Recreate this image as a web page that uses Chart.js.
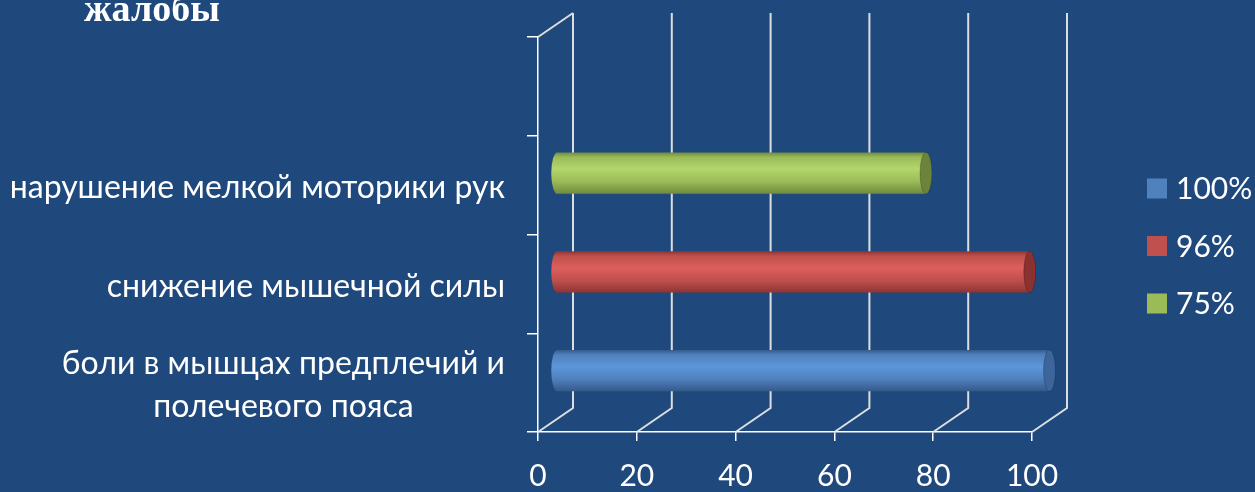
<!DOCTYPE html>
<html>
<head>
<meta charset="utf-8">
<script src="https://cdn.jsdelivr.net/npm/chart.js@4.4.1/dist/chart.umd.min.js"></script>
<style>
  html, body { margin: 0; padding: 0; background: #1F497D; }
  #wrap { width: 1255px; height: 492px; }
</style>
</head>
<body>
<div id="wrap"><canvas id="chart" width="1255" height="492"></canvas></div>
<script>
// data
const categories = ['', 'нарушение мелкой моторики рук', 'снижение мышечной силы', ['боли в мышцах предплечий и', 'полечевого пояса']];
const seriesNames = ['100%', '96%', '75%'];
const series100 = [null, null, null, 100];
const series96 = [null, null, 96, null];
const series75 = [null, 75, null, null];
const xTicks = [0, 20, 40, 60, 80, 100];
const chartTitle = 'жалобы';

// colours per series
const palette = [
  { base: '#4F81BD', edge: '#35598A', light: '#5C96DB', cap: '#3D659C' },
  { base: '#C0504D', edge: '#8E3432', light: '#DC5F5C', cap: '#8A3230' },
  { base: '#9BBB59', edge: '#6F8A3C', light: '#B3D66C', cap: '#6C833B' }
];

const FONT = 'Lato, "Open Sans", "Noto Sans", sans-serif';
const DX = 35, DY = -24;   // 3d depth of the walls

function cylFill(ctx, i) {
  const chart = ctx.chart;
  const y = chart.scales.y;
  if (!chart.chartArea || !y) return palette[i].base;
  const yc = y.getPixelForValue(ctx.dataIndex);
  const half = (y.getPixelForValue(1) - y.getPixelForValue(0)) * 0.42 / 2;
  const g = chart.ctx.createLinearGradient(0, yc - half, 0, yc + half);
  const p = palette[i];
  g.addColorStop(0, p.edge);
  g.addColorStop(0.12, p.base);
  g.addColorStop(0.4, p.light);
  g.addColorStop(0.7, p.base);
  g.addColorStop(1, p.edge);
  return g;
}

const wallsAndCylinders = {
  id: 'wallsAndCylinders',
  beforeDatasetsDraw(chart) {
    const { ctx, chartArea: a, scales: { x } } = chart;
    ctx.save();
    ctx.strokeStyle = 'rgba(230,230,230,0.95)';
    ctx.lineWidth = 2;
    ctx.beginPath();
    xTicks.forEach(v => {
      const px = x.getPixelForValue(v);
      ctx.moveTo(px, a.bottom);
      ctx.lineTo(px + DX, a.bottom + DY);
      ctx.lineTo(px + DX, a.top + DY);
    });
    ctx.moveTo(a.left, a.top);
    ctx.lineTo(a.left + DX, a.top + DY);
    ctx.stroke();
    ctx.restore();
    // bars sit half way into the depth
    ctx.save();
    ctx.translate(DX / 2, DY / 2);
  },
  afterDatasetsDraw(chart) {
    const ctx = chart.ctx;
    chart.data.datasets.forEach((ds, i) => {
      const meta = chart.getDatasetMeta(i);
      meta.data.forEach((el, j) => {
        if (ds.data[j] == null) return;
        const { x, y, base, height } = el.getProps(['x', 'y', 'base', 'height'], true);
        const rx = 6, ry = height / 2;
        ctx.fillStyle = el.options.backgroundColor;
        ctx.beginPath();
        ctx.ellipse(base + 1, y, rx, ry, 0, Math.PI / 2, Math.PI * 3 / 2);
        ctx.fill();
        ctx.fillStyle = palette[i].cap;
        ctx.beginPath();
        ctx.ellipse(x, y, rx, ry, 0, 0, Math.PI * 2);
        ctx.fill();
        ctx.strokeStyle = 'rgba(0,0,0,0.2)';
        ctx.lineWidth = 1;
        ctx.stroke();
      });
    });
    ctx.restore();
  },
  afterDraw(chart) {
    const { ctx, scales: { y }, chartArea: a } = chart;
    ctx.save();
    ctx.fillStyle = '#fff';
    // category labels, lines centred on each other, block right aligned
    ctx.font = '32px ' + FONT;
    ctx.textBaseline = 'middle';
    ctx.textAlign = 'center';
    const right = a.left - 33;
    categories.forEach((lab, i) => {
      const lines = Array.isArray(lab) ? lab : [lab];
      if (!lines[0]) return;
      const w = Math.max(...lines.map(l => ctx.measureText(l).width));
      const cx = right - w / 2;
      const lh = 43;
      const yc = y.getPixelForValue(i) + 3;
      lines.forEach((l, k) => ctx.fillText(l, cx, yc + (k - (lines.length - 1) / 2) * lh));
    });
    // legend
    ctx.textAlign = 'left';
    ctx.font = '30px ' + FONT;
    const mid = chart.height / 2;
    seriesNames.forEach((n, i) => {
      const cy = mid + (i - 1) * 57.5;
      ctx.fillStyle = palette[i].base;
      ctx.fillRect(1147, cy - 10, 20, 20);
      ctx.fillStyle = '#fff';
      ctx.fillText(n, 1176, cy + 1);
    });
    // title
    ctx.font = 'bold 38px "Liberation Serif", "DejaVu Serif", serif';
    ctx.textBaseline = 'alphabetic';
    ctx.fillText(chartTitle, 84, 21);
    ctx.restore();
  }
};

new Chart(document.getElementById('chart'), {
  type: 'bar',
  data: {
    labels: categories,
    datasets: [series100, series96, series75].map((d, i) => ({
      label: seriesNames[i],
      data: d,
      grouped: false,
      categoryPercentage: 1,
      barPercentage: 0.42,
      borderWidth: 0,
      clip: false,
      backgroundColor: ctx => cylFill(ctx, i)
    }))
  },
  options: {
    indexAxis: 'y',
    responsive: false,
    animation: false,
    layout: { padding: { top: 37, right: 223, left: 0, bottom: 0 } },
    plugins: { legend: { display: false }, tooltip: { enabled: false } },
    scales: {
      y: {
        grid: { drawOnChartArea: false, tickLength: 11, color: '#fff', lineWidth: 1.5 },
        border: { color: '#fff', width: 1.5 },
        ticks: { display: false },
        afterFit: s => { s.width = 538; }
      },
      x: {
        min: 0, max: 100,
        afterBuildTicks: s => { s.ticks = xTicks.map(v => ({ value: v })); },
        grid: { drawOnChartArea: false, tickLength: 9, color: '#fff', lineWidth: 1.5 },
        border: { color: '#fff', width: 1.5 },
        ticks: { color: '#fff', font: { family: FONT, size: 30 }, padding: 17 },
        afterFit: s => { s.height = 60; }
      }
    }
  },
  plugins: [wallsAndCylinders]
});
</script>
</body>
</html>
